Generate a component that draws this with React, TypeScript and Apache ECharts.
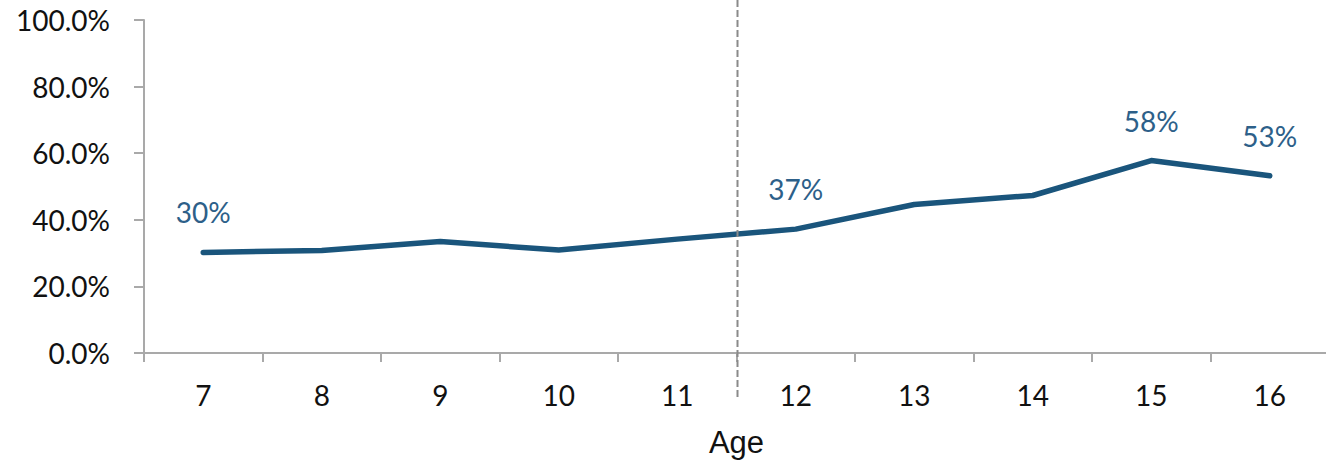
import React, { useEffect, useRef } from "react";
import * as echarts from "echarts";

const ages = ["7", "8", "9", "10", "11", "12", "13", "14", "15", "16"];
const shares = [30.2, 30.8, 33.5, 30.9, 34.2, 37.2, 44.6, 47.3, 57.8, 53.2];
const labelledAges = ["7", "12", "15", "16"];
const dividerBetween = ["11", "12"];

const FONT = "Lato, 'Open Sans', sans-serif";
const LINE = "#1a557c";
const LABEL = "#2d6089";
const AXIS = "#a9a9a9";

export default function App() {
  const ref = useRef<HTMLDivElement>(null);
  useEffect(() => {
    if (!ref.current) return;
    const chart = echarts.init(ref.current, undefined, { renderer: "svg" });
    chart.setOption({
      animation: false,
      grid: { left: 144, right: 0, top: 20, bottom: 112, outerBoundsMode: "none", containLabel: false },
      xAxis: {
        type: "category",
        data: ages,
        boundaryGap: true,
        name: "Age",
        nameLocation: "middle",
        nameGap: 74,
        nameTextStyle: { fontFamily: "'Liberation Sans', Arial, sans-serif", fontSize: 31, color: "#111" },
        axisLine: { lineStyle: { color: AXIS, width: 2 } },
        axisTick: { show: true, length: 9, lineStyle: { color: AXIS, width: 2 }, alignWithLabel: false },
        axisLabel: { fontFamily: FONT, fontSize: 28, color: "#111", margin: 28 },
        splitLine: { show: false },
      },
      yAxis: {
        type: "value",
        min: 0,
        max: 100,
        interval: 20,
        axisLine: { show: true, lineStyle: { color: AXIS, width: 2 } },
        axisTick: { show: true, inside: false, length: 10, lineStyle: { color: AXIS, width: 2 } },
        axisLabel: {
          fontFamily: FONT,
          fontSize: 28,
          color: "#111",
          margin: 34,
          formatter: (v: number) => v.toFixed(1) + "%",
        },
        splitLine: { show: false },
      },
      series: [
        {
          type: "line",
          data: shares,
          label: {
            show: true,
            position: "top",
            distance: 26,
            formatter: (p: any) =>
              labelledAges.includes(ages[p.dataIndex]) ? Math.round(p.value) + "%" : "",
            fontFamily: FONT,
            fontSize: 28,
            color: LABEL,
          },
          symbol: "circle",
          symbolSize: 0,
          showSymbol: true,
          itemStyle: { color: LINE },
          lineStyle: { color: LINE, width: 5.5, cap: "round", join: "round" },
        },
      ],
    });
    const xa = chart.convertToPixel({ xAxisIndex: 0 }, dividerBetween[0]) as number;
    const xb = chart.convertToPixel({ xAxisIndex: 0 }, dividerBetween[1]) as number;
    const x = Math.round((xa + xb) / 2) + 0.5;
    chart.setOption({
      graphic: [
        {
          type: "line",
          shape: { x1: x, y1: 0, x2: x, y2: 398 },
          style: { stroke: "#8a8a8a", lineWidth: 2, lineDash: [7, 3] },
          z: 10,
        },
      ],
    });
    return () => chart.dispose();
  }, []);
  return (
    <div style={{ position: "fixed", left: 0, top: 0, width: 1326, height: 465, overflow: "hidden", background: "#fff" }}>
      <div ref={ref} style={{ width: 1329, height: 465 }} />
    </div>
  );
}
